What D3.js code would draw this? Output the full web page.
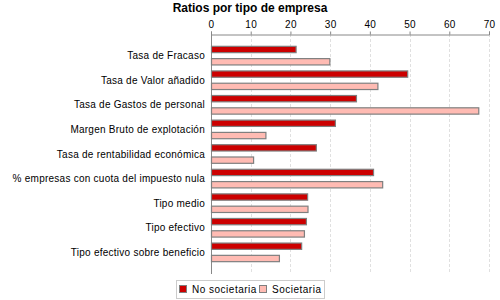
<!DOCTYPE html>
<html>
<head>
<meta charset="utf-8">
<script src="https://cdn.jsdelivr.net/npm/d3@7"></script>
<style>
body { margin: 0; background: #fff; }
svg { display: block; font-family: "Liberation Sans", Arial, sans-serif; }
</style>
</head>
<body>
<svg id="chart" width="500" height="300"></svg>
<script>
const title = "Ratios por tipo de empresa";
const categories = [
  "Tasa de Fracaso",
  "Tasa de Valor añadido",
  "Tasa de Gastos de personal",
  "Margen Bruto de explotación",
  "Tasa de rentabilidad económica",
  "% empresas con cuota del impuesto nula",
  "Tipo medio",
  "Tipo efectivo",
  "Tipo efectivo sobre beneficio"
];
const seriesNames = ["No societaria", "Societaria"];
const noSocietaria = [21.3, 49.4, 36.5, 31.2, 26.4, 40.8, 24.2, 23.9, 22.7];
const societaria   = [29.8, 41.9, 67.3, 13.7, 10.6, 43.1, 24.3, 23.4, 17.1];
const xTicks = [0, 10, 20, 30, 40, 50, 60, 70];
const colors = ["#CC0000", "#FFBBB3"];

const svg = d3.select("#chart");
const x = d3.scaleLinear().domain([0, 70]).range([211, 489]);
const y = d3.scaleBand().domain(categories).range([34, 274]).paddingInner(0).paddingOuter(0.38);
const ys = d3.scaleBand().domain(seriesNames).range([0, y.bandwidth()]).paddingInner(0.486).paddingOuter(0.243);

const plotTop = 34, plotBottom = 274;

// title
svg.append("text").attr("x", 250).attr("y", 12).attr("text-anchor", "middle")
  .attr("font-size", 12).attr("font-weight", "bold").attr("fill", "#000").text(title);

// grid lines
svg.append("g").selectAll("line").data(xTicks.filter(d => d > 0)).join("line")
  .attr("x1", d => Math.round(x(d)) + 0.5).attr("x2", d => Math.round(x(d)) + 0.5)
  .attr("y1", plotTop).attr("y2", plotBottom)
  .attr("stroke", "#e0e0e0").attr("stroke-width", 1).attr("stroke-dasharray", "3,2");

// top axis
const axis = svg.append("g").attr("transform", `translate(0,${plotTop + 0.5})`)
  .call(d3.axisTop(x).tickValues(xTicks).tickSize(3).tickPadding(4).tickFormat(d3.format("d")));
axis.select(".domain").attr("stroke", "#888");
axis.selectAll(".tick line").attr("stroke", "#888");
axis.selectAll(".tick text").attr("font-size", 10).attr("fill", "#000")
  .attr("font-family", "Liberation Sans, Arial, sans-serif").style("letter-spacing", "0.3px");

// left category axis line
svg.append("line").attr("x1", Math.round(x(0)) + 0.5).attr("x2", Math.round(x(0)) + 0.5)
  .attr("y1", plotTop).attr("y2", plotBottom).attr("stroke", "#888");

// category labels
svg.append("g").selectAll("text").data(categories).join("text")
  .attr("x", 205).attr("y", d => y(d) + y.bandwidth() / 2)
  .attr("dy", "0.35em").attr("text-anchor", "end")
  .attr("font-size", 10).style("letter-spacing", "0.25px").attr("fill", "#000").text(d => d);

// bars
const rows = categories.map((c, i) => ({ c, vals: [noSocietaria[i], societaria[i]] }));
const g = svg.append("g");
rows.forEach(r => {
  r.vals.forEach((v, si) => {
    g.append("rect")
      .attr("x", x(0) + 0.5)
      .attr("y", y(r.c) + ys(seriesNames[si]))
      .attr("width", x(v) - x(0))
      .attr("height", ys.bandwidth())
      .attr("fill", colors[si])
      .attr("stroke", "#7f7f7f").attr("stroke-width", 1.2);
  });
});

// legend
const lg = svg.append("g");
lg.append("rect").attr("x", 176.5).attr("y", 280.5).attr("width", 148).attr("height", 18)
  .attr("fill", "#fff").attr("stroke", "#cccccc");
const legItems = [{ name: seriesNames[0], sx: 179, tx: 192 }, { name: seriesNames[1], sx: 259, tx: 272 }];
legItems.forEach((it, i) => {
  lg.append("rect").attr("x", it.sx + 0.5).attr("y", 285.5).attr("width", 7).attr("height", 7)
    .attr("fill", colors[i]).attr("stroke", "#7f7f7f");
  lg.append("text").attr("x", it.tx).attr("y", 293).attr("font-size", 10)
    .style("letter-spacing", "0.5px").attr("fill", "#000").text(it.name);
});
</script>
</body>
</html>
